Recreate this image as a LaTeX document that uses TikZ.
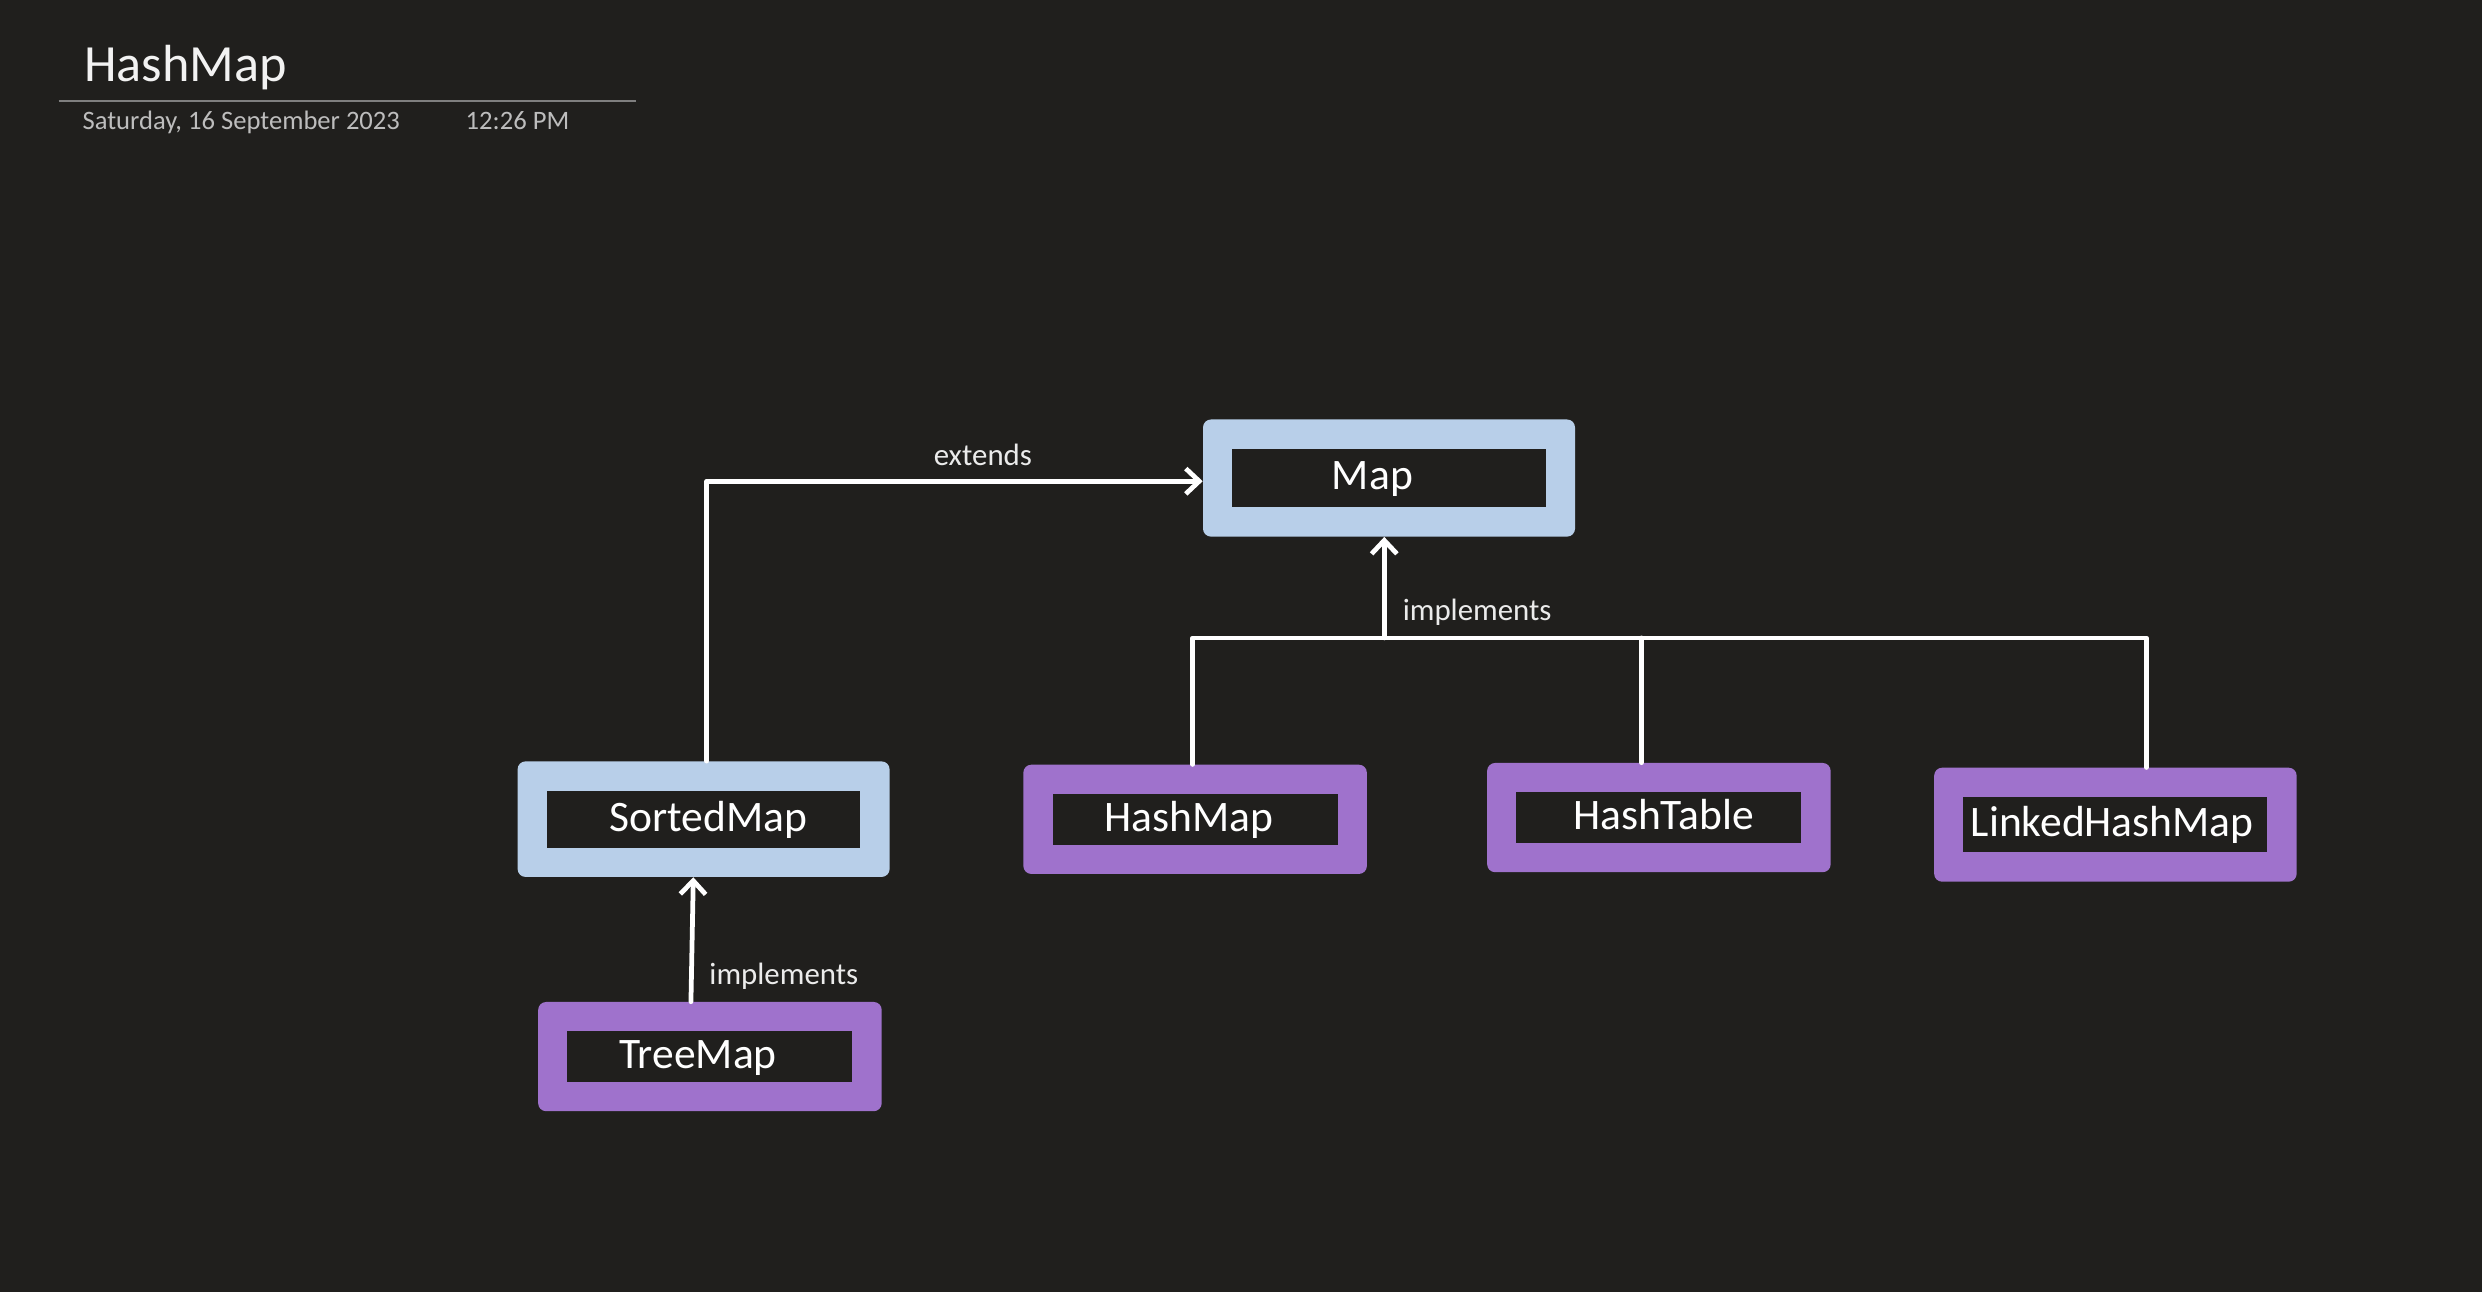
\documentclass[tikz,border=0pt]{standalone}
\usepackage{fontspec}
\setmainfont{Carlito}
\usetikzlibrary{arrows.meta}
\definecolor{bg}{HTML}{201F1D}
\definecolor{mapblue}{HTML}{B8CFE9}
\definecolor{impurple}{HTML}{9F72CC}
\definecolor{datecol}{HTML}{BDBDBD}
\definecolor{rulecol}{HTML}{7F7F7F}
\definecolor{titlecol}{HTML}{F2F2F2}
\begin{document}
\begin{tikzpicture}[x=1pt,y=-1pt,
  box/.style={rectangle, inner sep=0pt, rounded corners=5pt, text=white,
    font=\fontsize{27.5}{32}\selectfont, text height=19pt, text depth=4pt,
    path picture={\fill[bg, sharp corners]
      ([shift={(18.5pt,-18.5pt)}]path picture bounding box.north west) rectangle
      ([shift={(-18.5pt,18.5pt)}]path picture bounding box.south east);}},
  toff/.style={execute at begin node={\hspace*{#1}}},
  iface/.style={box, fill=mapblue},
  impl/.style={box, fill=impurple},
  conn/.style={draw=white, line width=3pt, line cap=round, line join=round},
  tip/.style={-{Straight Barb[length=8.5pt,width=16pt]}},
  lbl/.style={text=white!92!black, font=\fontsize{19.5}{23}\selectfont, inner sep=0pt, anchor=base west},
  datetxt/.style={text=datecol, font=\fontsize{16.8}{20}\selectfont, inner sep=0pt, anchor=base west}]
\fill[bg] (0,0) rectangle (1568,816.2);
\useasboundingbox (0,0) rectangle (1568,816.2);

% header
\node[text=titlecol, font=\fontsize{33}{38}\selectfont, inner sep=0pt, anchor=base west] (title) at (53,51.6) {HashMap};
\coordinate (ruleL) at (37,64);
\coordinate (ruleR) at (402,64);
\draw[rulecol, line width=1.4pt] (ruleL) -- (ruleR);
\node[datetxt] (date) at (52,81.5) {Saturday, 16 September 2023};
\node[datetxt] (time) at (294,81.5) {12:26 PM};

% boxes
\node[iface, toff=-21pt, minimum width=235pt, minimum height=74pt] (Map) at (877.5,302) {Map};
\node[iface, toff=6pt, minimum width=235pt, minimum height=73pt] (SortedMap) at (444.5,517.5) {SortedMap};
\node[impl, toff=-15pt, minimum width=217pt, minimum height=69pt] (TreeMap) at (448.5,667.5) {TreeMap};
\node[impl, toff=-8pt, minimum width=217pt, minimum height=69pt] (HashMap) at (755,517.6) {HashMap};
\node[impl, toff=6pt, minimum width=217pt, minimum height=69pt] (HashTable) at (1048,516.5) {HashTable};
\node[impl, toff=-4pt, minimum width=229pt, minimum height=72pt] (LinkedHashMap) at (1336.4,521) {LinkedHashMap};

% connectors
\draw[conn, tip] ([xshift=2pt]SortedMap.north) |- ([yshift=-2pt]Map.west);
\draw[conn, tip] ([xshift=-12pt]TreeMap.north) -- ([xshift=-6.5pt]SortedMap.south);

\coordinate (busL) at (753.5,403);
\coordinate (busM) at (874.5,403);
\coordinate (busT) at (1037,403);
\coordinate (busR) at (1356,403);
\draw[conn] ([xshift=-1.5pt]HashMap.north) -- (busL) -- (busR) -- ([xshift=19.6pt]LinkedHashMap.north);
\draw[conn] (busT) -- ([xshift=-11pt]HashTable.north);
\draw[conn, tip] (busM) -- ([xshift=-3pt]Map.south);

% labels
\node[lbl] (lExt) at (589.7,294) {extends};
\node[lbl] (lImp1) at (886,391.7) {implements};
\node[lbl] (lImp2) at (448,622) {implements};
\end{tikzpicture}
\end{document}
